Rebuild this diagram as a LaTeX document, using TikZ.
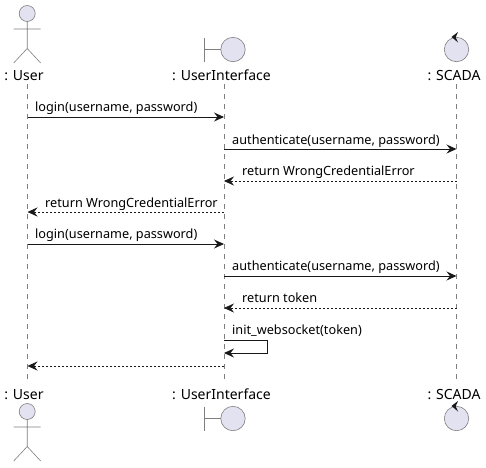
\documentclass[tikz,border=0pt]{standalone}
\usepackage{fontspec}
\setmainfont{Noto Sans}
\usetikzlibrary{arrows.meta}
\definecolor{fillc}{HTML}{E2E2F0}
\definecolor{linec}{HTML}{7F7F7F}
\definecolor{msgc}{HTML}{181818}
\tikzset{
  lifeline/.style={draw=linec,line width=0.6pt,dash pattern=on 5pt off 5pt},
  partline/.style={draw=linec,line width=0.6pt},
  partfill/.style={partline,fill=fillc},
  hd/.style={-{Stealth[length=10pt,width=9pt,inset=3.5pt,color=msgc]}},
  syncmsg/.style={hd,draw=msgc,line width=0.9pt},
  retmsg/.style={hd,draw=msgc,line width=0.6pt,dash pattern=on 2pt off 2pt},
  msglabel/.style={font=\fontsize{12.7}{14}\selectfont,text=black,inner sep=0pt,anchor=base west},
  partname/.style={font=\fontsize{14}{16}\selectfont,text=black,inner sep=0pt,anchor=base},
}
\newcommand{\pts}[2]{%
  \coordinate (u#1) at (27.5,#2);
  \coordinate (i#1) at (224,#2);
  \coordinate (s#1) at (456.5,#2);}
\newcommand{\actorfig}[2]{%
  \draw[partfill] (#1,#2) circle (8);
  \draw[partline] (#1,#2+8) -- (#1,#2+35) (#1-13.5,#2+15.5) -- (#1+13.5,#2+15.5)
     (#1-13.5,#2+49.5) -- (#1,#2+35) -- (#1+13.5,#2+49.5);}
\newcommand{\boundfig}[2]{%
  \draw[partfill] (#1,#2) circle (12.2);
  \draw[partline] (#1-28.5,#2-12) -- (#1-28.5,#2+12) (#1-28.5,#2) -- (#1-12.2,#2);}
\newcommand{\controlfig}[2]{%
  \draw[partfill] (#1,#2) circle (12.2);
  \fill[msgc] (#1-5,#2-12.6) -- (#1+1.5,#2-17.5) -- (#1-0.8,#2-12.2) -- (#1+1.5,#2-7) -- cycle;}
\begin{document}
\begin{tikzpicture}[x=1pt,y=-1pt]
\useasboundingbox (0,0) rectangle (486,467);
\fill[white] (0,0) rectangle (486,467);
% lifelines
\coordinate (ut) at (27.5,84); \coordinate (ub) at (27.5,380);
\coordinate (it) at (224,84);  \coordinate (ib) at (224,380);
\coordinate (st) at (456.5,84); \coordinate (sb) at (456.5,380);
\draw[lifeline] (ut) -- (ub);
\draw[lifeline] (it) -- (ib);
\draw[lifeline] (st) -- (sb);
% participants, top
\actorfig{27.2}{13.5}
\boundfig{233}{49.5}
\controlfig{456.5}{49.5}
\node[partname] (ua) at (24,80) {: User};
\node[partname] (ia) at (221.5,80) {: UserInterface};
\node[partname] (sa) at (454,80) {: SCADA};
% participants, bottom
\node[partname] (ub2) at (24,399) {: User};
\node[partname] (ib2) at (221.5,399) {: UserInterface};
\node[partname] (sb2) at (454,399) {: SCADA};
\actorfig{27.2}{411.5}
\boundfig{233}{418.5}
\controlfig{456.5}{418.5}
% messages
\pts{1}{117}\pts{2}{149}\pts{3}{181}\pts{4}{212}\pts{5}{244}\pts{6}{276}\pts{7}{308}\pts{8}{340}\pts{9}{353}\pts{10}{366}
\coordinate (l1) at (267,340); \coordinate (l2) at (267,353);
\draw[syncmsg] (u1) -- (i1);
\node[msglabel] (m1) at (35,111.5) {login(username, password)};
\draw[syncmsg] (i2) -- (s2);
\node[msglabel] (m2) at (232,144) {authenticate(username, password)};
\draw[retmsg] (s3) -- (i3);
\node[msglabel] (m3) at (242,175.5) {return WrongCredentialError};
\draw[retmsg] (i4) -- (u4);
\node[msglabel] (m4) at (45,207) {return WrongCredentialError};
\draw[syncmsg] (u5) -- (i5);
\node[msglabel] (m5) at (35,238.5) {login(username, password)};
\draw[syncmsg] (i6) -- (s6);
\node[msglabel] (m6) at (232,270.5) {authenticate(username, password)};
\draw[retmsg] (s7) -- (i7);
\node[msglabel] (m7) at (242,302.5) {return token};
\draw[syncmsg] (i8) -- (l1) -- (l2) -- (i9);
\node[msglabel] (m8) at (232,334.5) {init\_websocket(token)};
\draw[retmsg] (i10) -- (u10);
\end{tikzpicture}
\end{document}
